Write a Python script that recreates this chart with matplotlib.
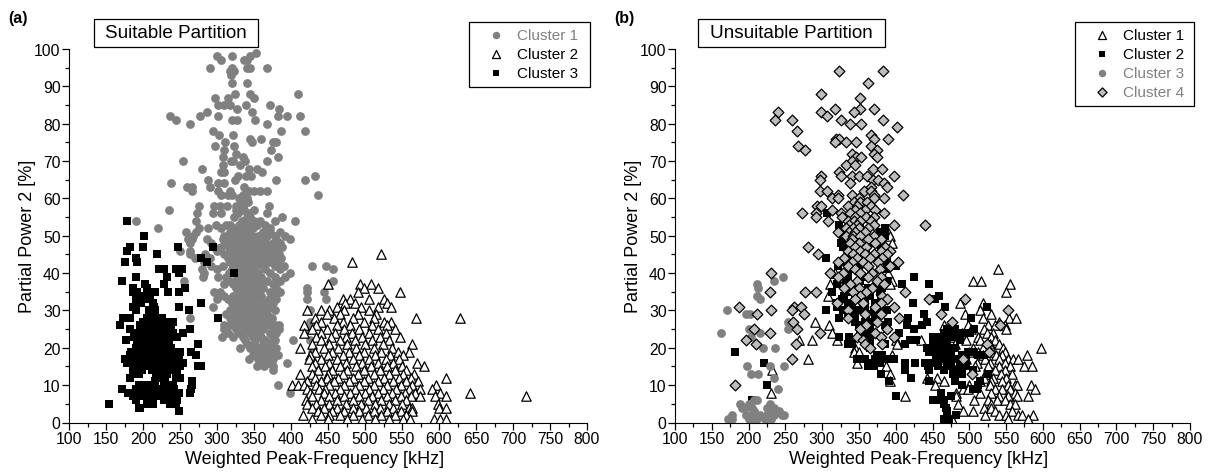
import numpy as np
import matplotlib
matplotlib.use('Agg')
import matplotlib.pyplot as plt
from matplotlib.patches import Rectangle

plt.rcParams['font.family'] = ['Liberation Sans', 'DejaVu Sans']

# points, per series: {partial power: [frequencies]}
a_cluster1 = {
    99: [353], 98: [300, 320, 344], 97: [306, 337, 341], 95: [291, 320, 340, 345, 368], 94: [317, 323],
    93: [319], 91: [320, 340], 88: [324, 344, 410], 87: [297, 315, 350], 85: [301, 309, 318, 339, 371],
    84: [327, 384], 83: [287, 347], 82: [237, 277, 301, 383, 395, 412], 81: [244, 320, 327, 352],
    80: [263, 368], 78: [294, 386, 419], 77: [303, 321], 76: [345, 359], 75: [311, 347, 376, 380],
    74: [297, 323], 73: [309, 373], 72: [326], 71: [308, 335, 383], 70: [254, 319, 322, 338, 367],
    69: [308, 331], 68: [280, 343, 354], 67: [305, 309, 361], 66: [328, 339, 346, 433],
    65: [288, 324, 380, 419], 64: [238, 301, 309], 63: [259, 266, 291, 337],
    62: [266, 301, 318, 343, 350, 358, 368], 61: [306, 315, 320, 335, 436], 60: [330, 337, 340],
    59: [333, 342], 58: [275, 296, 304, 314, 326, 335, 370], 57: [235, 325, 331, 337, 350],
    56: [273, 294, 306, 328, 343, 368], 55: [323, 340, 345, 388], 54: [190, 272, 334, 350, 358, 379, 405],
    53: [299, 312, 318, 330, 340, 354, 365], 52: [220, 275, 288, 305, 322, 335, 348, 372],
    51: [258, 272, 318, 328, 342, 362, 372, 385], 50: [268, 310, 316, 326, 333, 340, 348, 356, 368, 378, 392],
    49: [261, 266, 286, 308, 322, 330, 338, 345, 352, 360, 380, 398],
    48: [264, 292, 312, 320, 328, 335, 342, 350, 358, 366, 376, 385],
    47: [296, 306, 316, 324, 332, 339, 346, 354, 362, 371, 380, 388],
    46: [250, 264, 300, 318, 326, 334, 341, 349, 356, 368, 378],
    45: [264, 284, 310, 322, 330, 337, 344, 352, 360, 372, 384],
    44: [270, 290, 315, 325, 333, 340, 347, 355, 365, 375, 386],
    43: [283, 318, 327, 335, 342, 350, 358, 370, 381],
    42: [292, 308, 322, 330, 338, 345, 352, 362, 378, 390, 429, 447],
    41: [280, 300, 320, 328, 336, 343, 351, 365, 385, 457],
    40: [283, 316, 325, 333, 340, 348, 356, 372, 398],
    39: [281, 302, 312, 327, 335, 342, 350, 360, 378, 392],
    38: [256, 318, 329, 337, 345, 353, 368, 385, 457], 37: [310, 322, 331, 339, 347, 358, 375],
    36: [325, 335, 342, 350, 362, 380, 422], 35: [296, 304, 328, 338, 345, 355, 372, 385, 422, 444],
    34: [310, 322, 332, 341, 349, 360, 378], 33: [300, 315, 328, 336, 345, 356, 370, 380, 422, 447],
    32: [320, 333, 342, 352, 365, 376], 31: [294, 325, 336, 346, 358, 372],
    30: [318, 330, 340, 350, 362, 378, 425], 29: [312, 325, 336, 345, 355, 368],
    28: [264, 318, 330, 342, 352, 364, 374], 27: [322, 335, 346, 358, 370, 425],
    26: [309, 318, 330, 342, 354, 366, 378, 384], 25: [309, 325, 338, 350, 362, 376, 384, 423],
    24: [315, 330, 345, 356, 372, 380], 23: [307, 322, 335, 348, 360, 375],
    22: [338, 352, 365, 378, 403, 425], 21: [340, 350, 362, 372], 20: [331, 345, 358, 368, 380],
    19: [352, 364, 375, 429], 18: [348, 360, 372, 382], 17: [343, 356, 368, 376], 16: [358, 370, 394],
    15: [354, 363, 376], 14: [376], 10: [383], 8: [399],
}
a_cluster2 = {
    45: [522], 43: [482], 37: [450, 493, 508], 36: [498, 518], 35: [490, 547], 33: [470, 480, 505, 525],
    32: [473, 486, 530], 31: [462, 494, 518, 535], 30: [422, 440, 452, 472, 505],
    29: [448, 466, 490, 515], 28: [432, 458, 484, 512, 569, 628], 27: [440, 470, 498, 525, 535],
    26: [418, 434, 462, 480, 510, 530], 25: [428, 448, 472, 492, 518, 540],
    24: [418, 440, 460, 482, 505, 528], 23: [434, 454, 474, 496, 520, 547],
    22: [440, 466, 486, 510, 532], 21: [428, 452, 476, 500, 524, 563],
    20: [412, 444, 464, 488, 512, 536], 19: [432, 456, 478, 498, 522, 545, 559],
    18: [426, 450, 470, 492, 514, 534, 552], 17: [424, 440, 462, 484, 506, 528, 546],
    16: [432, 452, 474, 496, 518, 538, 570], 15: [428, 446, 466, 488, 508, 530, 550, 580],
    14: [436, 456, 476, 498, 520, 540, 556], 13: [412, 428, 450, 470, 490, 512, 532, 552, 566],
    12: [432, 448, 464, 484, 504, 526, 546, 562, 609], 11: [422, 440, 458, 478, 498, 518, 538, 556, 572],
    10: [401, 409, 418, 434, 452, 472, 492, 512, 530, 548, 564, 596],
    9: [422, 438, 446, 466, 486, 506, 524, 542, 560, 574, 590],
    8: [426, 444, 460, 480, 500, 518, 536, 554, 568, 602, 642],
    7: [428, 452, 472, 492, 510, 530, 548, 562, 574, 595, 609, 718],
    6: [420, 440, 462, 484, 504, 522, 540, 556], 5: [422, 434, 452, 474, 494, 514, 532, 550, 599],
    4: [428, 444, 462, 484, 502, 520, 538, 560, 564, 600, 609], 3: [436, 456, 472, 492, 512, 530, 548, 564],
    2: [416, 440, 452, 466, 484, 504, 522, 540, 556], 1: [428, 450, 476, 496, 514, 532, 552, 561, 593, 602, 609],
}
a_cluster3 = {
    54: [178], 50: [201], 47: [183, 200, 247, 294], 46: [179], 45: [219], 44: [190, 279],
    43: [175, 192, 286], 41: [222, 228, 245, 253], 40: [248, 323], 39: [191, 232], 38: [172],
    37: [203, 229], 36: [186, 205, 257], 35: [187, 192, 216, 234, 248], 34: [195, 205, 210],
    33: [190, 200, 208], 32: [197, 214, 279], 31: [186, 215, 248], 30: [190, 208, 216, 262],
    29: [208, 216], 28: [173, 183, 205, 215, 226, 302], 27: [200, 210, 222, 232, 240],
    26: [169, 196, 206, 218, 228, 238], 25: [183, 198, 205, 212, 224, 234, 263],
    24: [190, 203, 216, 222, 228, 240, 254], 23: [188, 200, 212, 224, 235, 246], 22: [177, 195, 208, 220, 235],
    21: [192, 204, 210, 216, 228, 274], 20: [190, 200, 210, 222, 238],
    19: [184, 196, 206, 216, 224, 232, 244, 250, 265], 18: [182, 192, 204, 214, 226, 238, 248, 272],
    17: [176, 190, 200, 212, 224, 236, 246], 16: [178, 186, 198, 208, 220, 232, 242, 254],
    15: [186, 196, 208, 216, 228, 240, 250, 274, 279], 14: [190, 198, 212, 224, 238],
    13: [186, 194, 218, 232, 246], 12: [182, 220, 230, 244, 250], 11: [216, 228, 266],
    10: [194, 204, 214, 232, 240, 266], 9: [171, 190, 198, 208, 218, 226, 242, 265],
    8: [180, 188, 202, 212, 222, 234, 248, 263], 7: [186, 196, 206, 218, 230, 244],
    6: [190, 208, 228, 240, 246], 5: [154, 206, 214, 236, 244], 4: [194, 196], 3: [249],
}

b_cluster1 = {
    51: [389], 50: [378, 392], 48: [395], 43: [345, 380], 41: [539], 40: [318, 390], 38: [330, 395, 505, 516],
    37: [310, 392, 556], 35: [550], 34: [308], 32: [487, 518], 30: [515], 29: [494, 530], 28: [519, 554, 564],
    27: [290, 540], 26: [309, 465, 498, 526, 535, 548], 25: [470, 502, 520, 550], 24: [313, 490, 524, 532],
    23: [478, 512, 530], 22: [268, 286, 320, 400, 435, 495, 515, 535], 21: [402, 470, 480, 528, 540],
    20: [345, 505, 518, 530, 546, 598], 19: [343, 350, 500, 512, 530, 548], 18: [395, 518, 536, 545, 578],
    17: [281, 470, 495, 522, 540, 552, 560, 566], 16: [348, 480, 510, 528, 548],
    15: [387, 508, 526, 540, 555, 574, 585], 14: [232, 480, 535, 548], 13: [392, 522, 543, 558],
    12: [442, 456, 520, 532, 550], 11: [392, 465, 515, 530, 545], 10: [454, 500, 528, 552, 562, 565, 584],
    9: [492, 498, 535, 545, 556, 589], 8: [230, 482, 515, 530, 562], 7: [413, 482, 540, 552, 565, 580],
    6: [506, 525, 538, 548], 5: [485, 530, 556, 562], 4: [520, 530], 3: [492, 505, 535, 558],
    2: [522, 540, 550, 566, 572, 587], 1: [476, 552, 580],
}
b_cluster2 = {
    58: [345], 56: [307], 53: [323, 352], 52: [345, 385], 51: [340, 352, 378], 50: [328, 345, 360, 385],
    49: [335, 350, 372], 48: [325, 340, 365], 47: [328, 352, 380], 46: [335, 360], 45: [345, 375],
    44: [305, 340], 43: [330, 362, 388], 42: [322, 350, 400], 41: [340, 388], 39: [335, 360, 425],
    38: [332, 352, 388], 37: [320, 342, 375, 408, 445], 36: [340, 362, 382], 35: [313, 335, 350, 378],
    34: [330, 345, 365, 459], 33: [327, 345, 358, 380, 454], 32: [320, 335, 355, 372, 423],
    31: [320, 340, 358, 378, 467, 524], 30: [305, 328, 350, 370, 388], 29: [335, 345, 360, 378, 439],
    28: [323, 345, 372, 417, 502], 27: [345, 358, 368, 390, 442], 26: [350, 365, 385, 415, 436],
    25: [352, 362, 388, 425, 470, 480, 507], 24: [358, 370, 405, 465, 480, 490, 501],
    23: [323, 336, 360, 450, 458, 470, 478, 485], 22: [365, 420, 428, 450, 465, 488],
    21: [335, 340, 365, 385, 412, 455, 470], 20: [365, 442, 448, 455, 465, 480],
    19: [181, 445, 460, 475, 498, 505], 18: [375, 382, 455, 470, 490, 512, 520],
    17: [348, 358, 372, 390, 398, 455, 465, 480, 495], 16: [221, 365, 378, 412, 426, 440, 450, 470, 488],
    15: [362, 370, 444, 458, 475, 495], 14: [412, 445, 465, 485, 505], 13: [380, 478, 490, 525],
    12: [421, 480], 11: [391, 445, 480, 515], 10: [225, 490, 512], 9: [505, 510], 8: [462],
    7: [401, 475], 6: [204, 450, 460, 465], 5: [465], 4: [468], 3: [470], 2: [470, 482], 1: [465, 472],
}
b_cluster3 = {
    39: [247], 38: [235], 37: [211], 36: [213], 34: [211], 33: [215], 30: [171], 29: [197, 202],
    27: [253], 25: [200, 253], 24: [163, 215], 23: [203], 20: [219, 236], 15: [198, 229, 248],
    13: [203, 213], 12: [234], 9: [240], 6: [208, 211], 5: [189, 200, 229], 4: [191, 195, 205, 225, 235],
    3: [208, 228, 232, 238, 242], 2: [178, 197, 205, 215, 225, 235, 245, 248],
    1: [172, 178, 200, 208, 212, 222, 230],
}
b_cluster4 = {
    94: [323, 383], 91: [363], 88: [298], 87: [351], 84: [317, 352, 371], 83: [240, 299, 343], 82: [307],
    81: [236, 259, 326, 383], 80: [338, 353], 79: [402], 78: [266], 77: [366], 76: [319, 323, 371, 389],
    75: [317, 332, 346], 74: [267, 366], 73: [277, 374], 72: [340, 371], 71: [346, 353, 374], 70: [340],
    69: [333, 344], 68: [369, 382], 67: [323], 66: [299, 326, 340, 350, 361, 397], 65: [297, 369, 376],
    64: [338, 384], 63: [366, 388], 62: [297, 306, 357, 366], 61: [322, 340, 371, 410],
    60: [314, 321, 350, 371, 384], 59: [343, 352, 361], 58: [293, 299, 335, 348, 366], 57: [314, 345, 358, 372],
    56: [273, 292, 325, 338, 352, 384], 55: [291, 327, 345, 360, 371], 54: [308, 335, 343, 352, 366],
    53: [337, 348, 371, 397, 440], 52: [332, 342, 350, 362], 51: [322, 336, 345, 358], 50: [332, 342, 352, 370],
    49: [340, 362, 380], 48: [338, 350, 372],
    47: [281, 345, 360, 385], 46: [335, 352, 380, 392], 45: [295, 342, 358, 370, 388], 44: [330, 348, 365, 382],
    43: [322, 340, 356, 376, 403], 42: [335, 362, 392], 41: [345, 378], 40: [230, 310, 328, 352, 368],
    39: [322, 362, 380], 38: [347, 374], 37: [338, 384], 36: [330, 350, 368],
    35: [229, 277, 292, 342, 360, 412], 34: [352, 382], 33: [345, 388, 445, 494],
    32: [320, 355, 380], 31: [187, 262, 271, 372, 398], 30: [231, 259, 335, 552],
    29: [211, 276, 358, 380, 462], 28: [335, 405], 27: [261, 375, 477], 26: [360, 542],
    25: [207, 266, 352, 388], 24: [229, 297, 372], 23: [348, 380, 398], 22: [196, 355],
    21: [210, 265, 358, 382, 524], 20: [365], 19: [527], 17: [259, 491], 13: [504], 10: [182],
}

x_ticks = list(range(100, 801, 50))
y_ticks = list(range(0, 101, 10))
panel_labels = ['(a)', '(b)']
titles = ['Suitable Partition', 'Unsuitable Partition']

circle = dict(marker='o', color='#808080', s=40, linewidths=0)
triangle = dict(marker='^', facecolors='white', edgecolors='black', s=46, linewidths=0.9)
square = dict(marker='s', color='black', s=30, linewidths=0)
diamond = dict(marker='D', facecolors='#bdbdbd', edgecolors='black', s=30, linewidths=0.9)

W, H = 1212, 477


def unpack(rows):
    xs = [x for y in rows for x in rows[y]]
    ys = [y for y in rows for x in rows[y]]
    return xs, ys


def pixel_box(x, y, w, h):
    # rectangle given in image pixels, y measured from the top
    return Rectangle((x / W, 1 - (y + h) / H), w / W, h / H, transform=fig.transFigure,
                     fc='white', ec='black', lw=0.9, zorder=5)


def setup(ax, label_x):
    ax.set_xlim(100, 800)
    ax.set_ylim(0, 100)
    ax.spines['top'].set_visible(False)
    ax.spines['right'].set_visible(False)
    ax.set_xticks(x_ticks)
    ax.set_yticks(y_ticks)
    ax.set_xticks(list(range(125, 800, 50)), minor=True)
    ax.set_yticks(list(range(5, 100, 10)), minor=True)
    ax.tick_params(which='major', length=5, width=0.9, labelsize=11.3, pad=1)
    ax.tick_params(which='minor', length=3, width=0.9)
    ax.set_xlabel('Weighted Peak-Frequency [kHz]', fontsize=13, labelpad=3, x=label_x)
    ax.set_ylabel('Partial Power 2 [%]', fontsize=13, labelpad=-1)


fig = plt.figure(figsize=(W / 100, H / 100), dpi=100)
ax1 = fig.add_axes([69 / W, 1 - 423.5 / H, 518 / W, 373.5 / H])
ax2 = fig.add_axes([675 / W, 1 - 423.5 / H, 515 / W, 373.5 / H])

ax1.scatter(*unpack(a_cluster1), label='Cluster 1', **circle)
ax1.scatter(*unpack(a_cluster2), label='Cluster 2', **triangle)
ax1.scatter(*unpack(a_cluster3), label='Cluster 3', **square)

ax2.scatter(*unpack(b_cluster1), label='Cluster 1', **triangle)
ax2.scatter(*unpack(b_cluster2), label='Cluster 2', **square)
ax2.scatter(*unpack(b_cluster3), label='Cluster 3', **circle)
ax2.scatter(*unpack(b_cluster4), label='Cluster 4', **diamond)

setup(ax1, 0.474)
setup(ax2, 0.472)

for ax, grey, frame in ((ax1, ['Cluster 1'], (469, 23, 121, 65)), (ax2, ['Cluster 3', 'Cluster 4'], (1075, 23, 119, 84))):
    fig.add_artist(pixel_box(*frame))
    handles, labels = ax.get_legend_handles_labels()
    leg = fig.legend(handles, labels, loc='upper left',
                     bbox_to_anchor=((frame[0] + 12) / W, 1 - (frame[1] + 6) / H),
                     fontsize=11, frameon=False, borderpad=0, labelspacing=0.32,
                     handletextpad=0.35, markerscale=0.85, borderaxespad=0)
    leg.set_zorder(6)
    for t in leg.get_texts():
        if t.get_text() in grey:
            t.set_color('#808080')

fig.text(8 / W, 1 - 18 / H, panel_labels[0], fontsize=11.5, fontweight='bold', va='center')
fig.text(614 / W, 1 - 18 / H, panel_labels[1], fontsize=11.5, fontweight='bold', va='center')

fig.add_artist(pixel_box(94, 20, 164, 28))
fig.add_artist(pixel_box(698, 20, 187, 28))
fig.text(176 / W, 1 - 34 / H, titles[0], fontsize=13.6, ha='center', va='center', zorder=6)
fig.text(791.5 / W, 1 - 34 / H, titles[1], fontsize=13.6, ha='center', va='center', zorder=6)

fig.savefig('out.png', dpi=100)
